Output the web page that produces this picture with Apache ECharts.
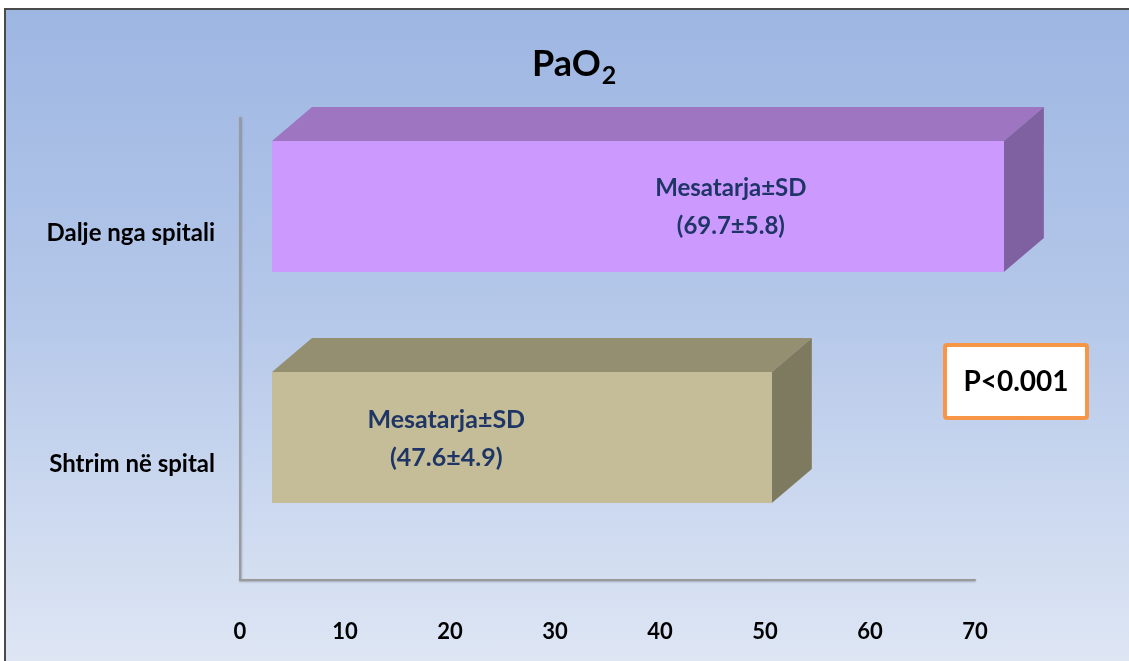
<!DOCTYPE html>
<html>
<head>
<meta charset="utf-8">
<script src="https://cdn.jsdelivr.net/npm/echarts@6/dist/echarts.min.js"></script>
<style>
  html, body { margin: 0; padding: 0; background: #ffffff; }
  #frame { position: absolute; left: 0; top: 0; width: 1129px; height: 661px; background: #ffffff; overflow: hidden; }
  #panel {
    position: absolute; left: 4px; top: 8px; width: 1125px; height: 653px;
    border-left: 2px solid #4a4a4a; border-top: 2px solid #4a4a4a;
    background: linear-gradient(to bottom, #9db6e2 0%, #b4c7e9 45%, #dee6f4 100%);
  }
  #chart { position: absolute; left: 0; top: 0; width: 1129px; height: 661px; }
</style>
</head>
<body>
<div id="frame">
  <div id="panel"></div>
  <div id="chart"></div>
</div>
<script>
// PaO2 at admission and at discharge (mean ± SD)
const categories = ['Shtrim në spital', 'Dalje nga spitali'];
const means = [47.6, 69.7];
const sds = [4.9, 5.8];
const xTicks = [0, 10, 20, 30, 40, 50, 60, 70];
const pValueText = 'P<0.001';

const FONT = 'Lato, "Open Sans", "DejaVu Sans", sans-serif';

// face colours per category: [front, top, side]
const faceColors = [
  ['#c4bd97', '#948f71', '#7e7a5f'],
  ['#cc99ff', '#9d75c1', '#7f60a0']
];
// where the two-line caption sits inside each bar, in axis units from the bar start
const captionAt = [16.6, 43.7];
const captionSize = [25, 24];

const chart = echarts.init(document.getElementById('chart'), null, { renderer: 'canvas' });

function renderBox(params, api) {
  const val = api.value(0);
  const cat = api.value(1);
  const p0 = api.coord([0, cat]);
  const p1 = api.coord([val, cat]);
  const band = api.size([0, 1])[1];
  const h = band * 0.567;
  // oblique projection offsets
  const ox = 32, oy = -27, dx = 40, dy = -34;
  const x0 = p0[0] + ox, x1 = p1[0] + ox;
  const yc = p0[1] + oy;
  const yt = yc - h / 2, yb = yc + h / 2;
  const c = faceColors[cat];
  const unit = api.coord([10, cat])[0] - p0[0];
  const tx = x0 + captionAt[cat] * unit / 10;
  return {
    type: 'group',
    children: [
      { type: 'polygon', shape: { points: [[x0, yt], [x1, yt], [x1 + dx, yt + dy], [x0 + dx, yt + dy]] },
        style: { fill: c[1] } },
      { type: 'polygon', shape: { points: [[x1, yt], [x1 + dx, yt + dy], [x1 + dx, yb + dy], [x1, yb]] },
        style: { fill: c[2] } },
      { type: 'rect', shape: { x: x0, y: yt, width: x1 - x0, height: h },
        style: { fill: c[0] } },
      { type: 'text', x: tx, y: yc + 1,
        style: {
          text: 'Mesatarja±SD\n(' + means[cat] + '±' + sds[cat] + ')',
          fill: '#1f3566', font: 'bold ' + captionSize[cat] + 'px ' + FONT, lineHeight: 38,
          align: 'center', verticalAlign: 'middle'
        } }
    ]
  };
}

const option = {
  animation: false,
  title: {
    text: 'PaO{sub|2}',
    left: 527,
    top: 36,
    textStyle: {
      fontFamily: FONT, fontWeight: 'bold', fontSize: 36, color: '#000000',
      rich: { sub: { fontFamily: FONT, fontWeight: 'bold', fontSize: 25, color: '#000000', padding: [22, 0, 0, 1] } }
    }
  },
  grid: { left: 240, right: 154, top: 118, bottom: 81 },
  xAxis: {
    type: 'value',
    min: xTicks[0], max: xTicks[xTicks.length - 1], interval: xTicks[1] - xTicks[0],
    axisLine: { show: true, lineStyle: { color: '#9a9a9a', width: 2, shadowColor: 'rgba(0,0,0,0.25)', shadowBlur: 2, shadowOffsetY: 1 } },
    axisTick: { show: false },
    splitLine: { show: false },
    axisLabel: { margin: 41, color: '#000000', fontFamily: FONT, fontWeight: 'bold', fontSize: 22 }
  },
  yAxis: {
    type: 'category',
    data: categories,
    axisLine: { show: true, lineStyle: { color: '#9a9a9a', width: 2, shadowColor: 'rgba(0,0,0,0.25)', shadowBlur: 2, shadowOffsetX: 1 } },
    axisTick: { show: false },
    splitLine: { show: false },
    axisLabel: { margin: 25, color: '#000000', fontFamily: FONT, fontWeight: 'bold', fontSize: 24 }
  },
  series: [{
    type: 'custom',
    renderItem: renderBox,
    encode: { x: 0, y: 1 },
    data: means.map((m, i) => [m, i]),
    clip: false
  }],
  graphic: [{
    type: 'group',
    left: 943, top: 343,
    children: [
      { type: 'rect', shape: { x: 0, y: 0, width: 142, height: 73, r: 2 },
        style: { fill: '#ffffff', stroke: '#f79646', lineWidth: 4 } },
      { type: 'text', x: 71, y: 37,
        style: { text: pValueText, fill: '#000000', font: 'bold 28px ' + FONT, align: 'center', verticalAlign: 'middle' } }
    ]
  }]
};

chart.setOption(option);
</script>
</body>
</html>
